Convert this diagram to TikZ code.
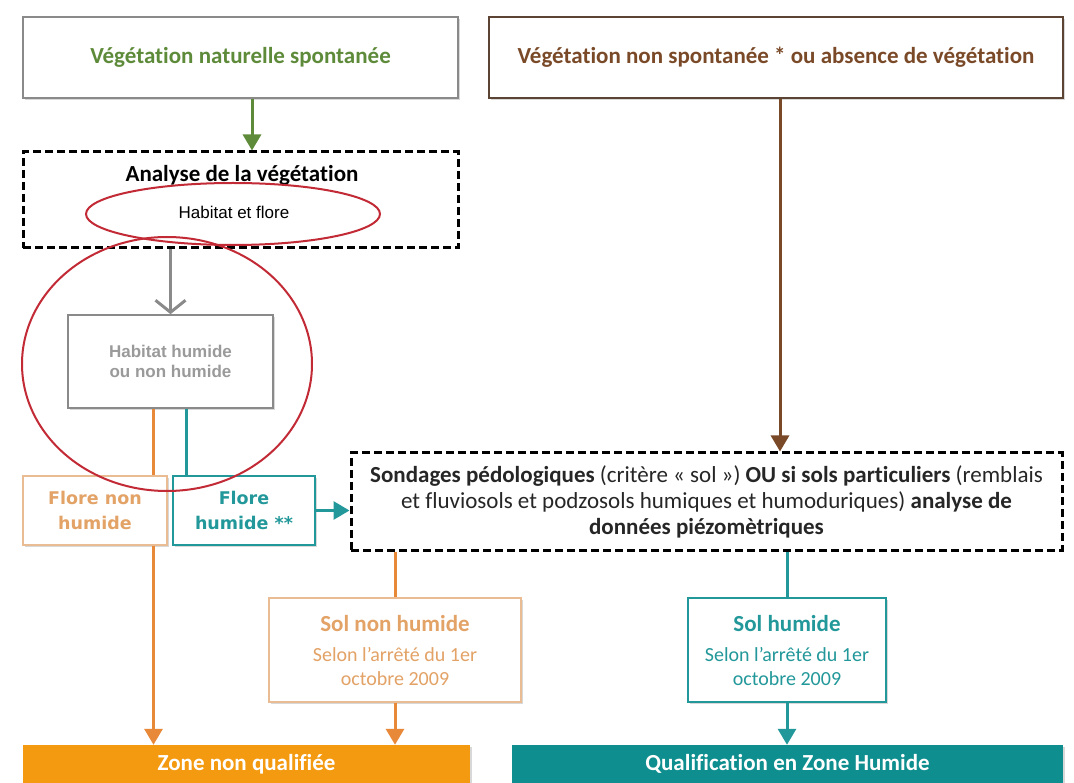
\documentclass[tikz,border=0pt]{standalone}
\usepackage{fontspec}
\setmainfont{Carlito}[Ligatures={NoCommon}]
\newfontfamily\arialf{Liberation Sans}
\newfontfamily\verdf{DejaVu Sans}
\usetikzlibrary{arrows.meta,shadows,calc}
\definecolor{vgreen}{HTML}{5E8B3A}
\definecolor{vbrown}{HTML}{7A4A28}
\definecolor{bbrown}{HTML}{5C4434}
\definecolor{vorange}{HTML}{E8893A}
\definecolor{lorange}{HTML}{E9BC94}
\definecolor{torange}{HTML}{E3A266}
\definecolor{zorange}{HTML}{F49A10}
\definecolor{vteal}{HTML}{23989A}
\definecolor{gteal}{HTML}{0E8E8E}
\definecolor{vgray}{HTML}{8A8A8A}
\definecolor{tgray}{HTML}{9A9A9A}
\definecolor{vred}{HTML}{C22A36}
\begin{document}
\begin{tikzpicture}[x=1pt,y=-1pt,
  box/.style={draw, line width=1.6pt, fill=white, align=center, inner sep=0pt,
    drop shadow={shadow xshift=1.5pt, shadow yshift=-2pt, opacity=0.3}},
  dbox/.style={draw=black, line width=3pt, dash pattern=on 8pt off 4pt, fill=white, inner sep=0pt, align=center},
  lnk/.style={line width=3pt},
  arr/.style={line width=3pt, -{Triangle[length=16pt,width=18pt]}},
  big/.style={font=\fontsize{23}{27}\selectfont\bfseries},
  fbox/.style={font=\verdf\fontsize{17.5}{25}\selectfont\bfseries},
  small/.style={font=\fontsize{20}{24}\selectfont}
]
\useasboundingbox (0,0) rectangle (1074,783);
\fill[white] (0,0) rectangle (1074,783);

% top boxes
\node[box, draw=vgray, minimum width=435pt, minimum height=81pt, text=vgreen, big] (nat) at (240.5,57.5) {Végétation naturelle spontanée};
\node[box, draw=bbrown, minimum width=574pt, minimum height=81pt, text=vbrown, big] (nonsp) at (776,57.5) {Végétation non spontanée * ou absence de végétation};

% analyse box
\node[dbox, minimum width=435pt, minimum height=96pt] (ana) at (240.5,200) {};
\node[big, text=black] (anat) at (242,175) {Analyse de la végétation};
\node[font=\arialf\fontsize{17}{20}\selectfont, text=black] (hab) at (234,212) {Habitat et flore};
\draw[vred, line width=2pt] (233,214) ellipse [x radius=147, y radius=31];

% habitat box
\node[box, draw=vgray, minimum width=205pt, minimum height=93pt, text=tgray, font=\arialf\fontsize{17}{20}\selectfont\bfseries, drop shadow={opacity=0}] (hh) at (170.5,361.5) {Habitat humide\\ou non humide};

% flore boxes
\node[box, draw=lorange, minimum width=144pt, minimum height=69pt, text=torange, fbox] (fnh) at (95,510.5) {Flore non\\humide};
\node[box, draw=vteal, minimum width=142pt, minimum height=69pt, text=vteal, fbox] (fh) at (244,510.5) {Flore\\humide **};

% sondages
\node[dbox, minimum width=711pt, minimum height=97pt, text=black!85, font=\fontsize{23}{26}\selectfont] (sond) at (706.5,501.5)
 {\textbf{Sondages pédologiques} (critère « sol ») \textbf{OU si sols particuliers} (remblais\\
  et fluviosols et podzosols humiques et humoduriques) \textbf{analyse de}\\
  \textbf{données piézomètriques}};

% sol boxes
\node[box, draw=lorange, minimum width=252pt, minimum height=104pt] (soln) at (395,650) {};
\node[big, text=torange] (solnt) at (395,624) {Sol non humide};
\node[small, text=torange, align=center] (solns) at (395,667) {Selon l’arrêté du 1er\\octobre 2009};
\node[box, draw=vteal, minimum width=198pt, minimum height=104pt] (solh) at (787,650) {};
\node[big, text=vteal] (solht) at (787,624) {Sol humide};
\node[small, text=vteal, align=center] (solhs) at (787,667) {Selon l’arrêté du 1er\\octobre 2009};

% result boxes
\node[fill=zorange, draw=none, minimum width=447pt, minimum height=38pt, inner sep=0pt, text=white, big,
  drop shadow={shadow xshift=1.5pt, shadow yshift=-2pt, opacity=0.3}] (znq) at (246.5,764) {Zone non qualifiée};
\node[fill=gteal, draw=none, minimum width=551pt, minimum height=38pt, inner sep=0pt, text=white, big,
  drop shadow={shadow xshift=1.5pt, shadow yshift=-2pt, opacity=0.3}] (qzh) at (787.5,764) {Qualification en Zone Humide};

% ellipse big
\draw[vred, line width=2pt] (167,364) ellipse [x radius=145, y radius=127];

% connectors
\draw[arr, vgreen] ([xshift=11.5pt]nat.south) -- ([xshift=11.5pt]ana.north);
\draw[line width=3pt, vgray, -{Straight Barb[length=12pt,width=30pt]}] (ana.south -| hh.north) -- (hh.north);
\draw[lnk, vorange] ([xshift=-17pt]hh.south) -- ([xshift=-17pt]hh.south |- fnh.north);
\draw[lnk, vteal] ([xshift=16pt]hh.south) -- ([xshift=16pt]hh.south |- fh.north);
\draw[arr, vorange] ([xshift=58.5pt]fnh.south) -- ([xshift=58.5pt]fnh.south |- znq.north);
\draw[arr, vteal] (fh.east) -- (sond.west |- fh.east);
\draw[arr, vbrown] ([xshift=4pt]nonsp.south) -- ([xshift=4pt]nonsp.south |- sond.north);
\draw[lnk, vorange] (sond.south -| soln.north) -- (soln.north);
\draw[arr, vorange] (soln.south) -- (soln.south |- znq.north);
\draw[lnk, vteal] (sond.south -| solh.north) -- (solh.north);
\draw[arr, vteal] (solh.south) -- (solh.south |- qzh.north);
\end{tikzpicture}
\end{document}
